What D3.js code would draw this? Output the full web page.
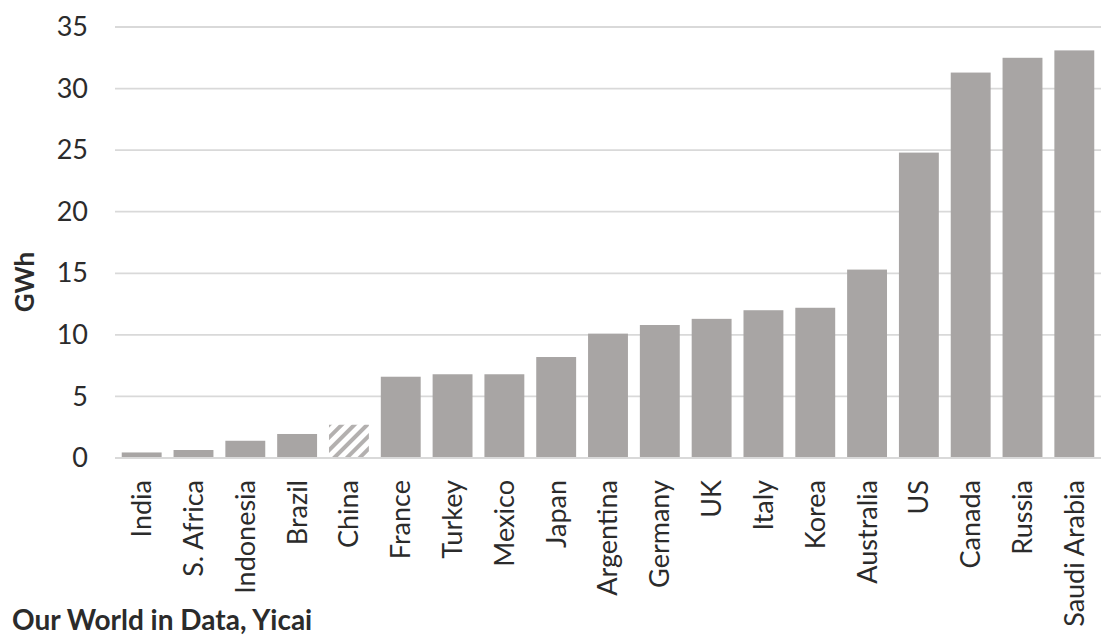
<!DOCTYPE html>
<html>
<head>
<meta charset="utf-8">
<script src="https://cdn.jsdelivr.net/npm/d3@7"></script>
<style>
  html, body { margin: 0; padding: 0; background: #fff; }
  svg { display: block; }
  text { font-family: Lato, "Open Sans", sans-serif; fill: #2b2b2b; }
</style>
</head>
<body>
<svg id="chart" width="1101" height="635"></svg>
<script>
// Storage capacity by country (GWh)
const countries = ["India", "S. Africa", "Indonesia", "Brazil", "China", "France", "Turkey",
  "Mexico", "Japan", "Argentina", "Germany", "UK", "Italy", "Korea", "Australia", "US",
  "Canada", "Russia", "Saudi Arabia"];
const values = [0.45, 0.65, 1.4, 1.95, 2.7, 6.6, 6.8, 6.8, 8.2, 10.1, 10.8, 11.3, 12.0,
  12.2, 15.3, 24.8, 31.3, 32.5, 33.1];
// China is shown with a hatched fill
const hatched = ["China"];
const yTicks = [0, 5, 10, 15, 20, 25, 30, 35];
const yLabel = "GWh";
const sourceText = "Our World in Data, Yicai";

const svg = d3.select("#chart");
const m = { left: 115, right: 1101, top: 27, bottom: 458 };
const font = "Lato, 'Open Sans', sans-serif";

const x = d3.scaleBand().domain(countries).range([m.left, m.right])
  .paddingInner(0.23).paddingOuter(0.13);
const y = d3.scaleLinear().domain([0, 35]).range([m.bottom, m.top]);

const defs = svg.append("defs");
const pat = defs.append("pattern")
  .attr("id", "hatch").attr("patternUnits", "userSpaceOnUse")
  .attr("width", 9).attr("height", 9)
  .attr("patternTransform", "rotate(45)");
pat.append("rect").attr("width", 9).attr("height", 9).attr("fill", "#fff");
pat.append("rect").attr("x", 0).attr("width", 4).attr("height", 9).attr("fill", "#b3b0af");

// gridlines
svg.append("g")
  .selectAll("line").data(yTicks.filter(d => d > 0)).join("line")
  .attr("x1", m.left).attr("x2", m.right)
  .attr("y1", d => y(d)).attr("y2", d => y(d))
  .attr("stroke", "#d9d9d9").attr("stroke-width", 1.8);

// y axis labels
const yAxis = d3.axisLeft(y).tickValues(yTicks).tickSize(0).tickPadding(0);
svg.append("g")
  .attr("transform", `translate(${m.left - 27},0)`)
  .call(yAxis)
  .call(g => g.select(".domain").remove())
  .selectAll("text")
  .style("font-size", "27px").attr("fill", "#2b2b2b")
  .style("font-family", font);

// bars
svg.append("g")
  .selectAll("rect").data(countries).join("rect")
  .attr("x", d => x(d))
  .attr("width", x.bandwidth())
  .attr("y", (d, i) => y(values[i]))
  .attr("height", (d, i) => y(0) - y(values[i]))
  .attr("fill", d => hatched.includes(d) ? "url(#hatch)" : "#a8a5a4");

// baseline
svg.append("line")
  .attr("x1", m.left).attr("x2", m.right)
  .attr("y1", y(0)).attr("y2", y(0))
  .attr("stroke", "#d9d9d9").attr("stroke-width", 1.8);

// category labels
const xAxis = d3.axisBottom(x).tickSize(0).tickPadding(0);
svg.append("g")
  .attr("transform", `translate(0,${m.bottom})`)
  .call(xAxis)
  .call(g => g.select(".domain").remove())
  .selectAll("text")
  .attr("transform", "rotate(-90)")
  .attr("text-anchor", "end")
  .attr("x", -22).attr("y", 0).attr("dy", "0.35em")
  .style("font-size", "27px").attr("fill", "#2b2b2b")
  .style("font-family", font);

// y axis title
svg.append("text")
  .attr("transform", `translate(34,282) rotate(-90)`)
  .attr("text-anchor", "middle")
  .style("font-size", "26px").style("font-weight", "bold")
  .text(yLabel);

// source
svg.append("text")
  .attr("x", 12).attr("y", 630)
  .style("font-size", "28px").style("font-weight", "bold")
  .text(sourceText);
</script>
</body>
</html>
